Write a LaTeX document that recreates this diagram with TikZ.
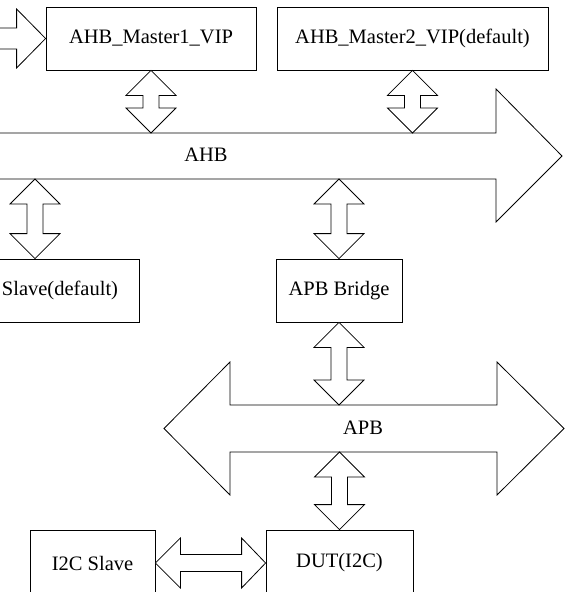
\documentclass[tikz,border=0pt]{standalone}
\usepackage{fontspec}
\setmainfont{Liberation Serif}
\usetikzlibrary{calc}
\tikzset{
  blk/.style={draw=black, line width=0.8pt, fill=white, line join=miter},
  box/.style={draw=black, line width=0.8pt, fill=white, inner sep=0pt, font=\fontsize{20.5}{24}\selectfont},
  lbl/.style={inner sep=0pt, font=\fontsize{20.5}{24}\selectfont}
}
% vertical double block arrow between two points on the same x (first above second)
\newcommand\vdarrow[2]{%
  \draw[blk] let \p1=(#1), \p2=(#2) in
    (\p1) -- (\x1+25pt,\y1-25pt) -- (\x1+8pt,\y1-25pt) -- (\x1+8pt,\y2+25pt)
    -- (\x1+25pt,\y2+25pt) -- (\p2) -- (\x1-25pt,\y2+25pt) -- (\x1-8pt,\y2+25pt)
    -- (\x1-8pt,\y1-25pt) -- (\x1-25pt,\y1-25pt) -- cycle;}
% horizontal double block arrow (first left of second)
\newcommand\hdarrow[2]{%
  \draw[blk] let \p1=(#1), \p2=(#2) in
    (\p1) -- (\x1+25pt,\y1+25pt) -- (\x1+25pt,\y1+8.5pt) -- (\x2-24pt,\y1+8.5pt)
    -- (\x2-24pt,\y1+25pt) -- (\p2) -- (\x2-24pt,\y1-25pt) -- (\x2-24pt,\y1-8.5pt)
    -- (\x1+25pt,\y1-8.5pt) -- (\x1+25pt,\y1-25pt) -- cycle;}
\begin{document}
\begin{tikzpicture}[x=1pt,y=-1pt]
\useasboundingbox (0,0) rectangle (569,592);
\clip (0,0) rectangle (569,592);
\fill[white] (0,0) rectangle (569,592);

% boxes
\node[box, minimum width=210pt, minimum height=63pt] (m1) at (151,38.5) {AHB\_Master1\_VIP};
\node[box, minimum width=271pt, minimum height=63pt] (m2) at (412.5,38.5) {AHB\_Master2\_VIP(default)};
\node[box, minimum width=158pt, minimum height=63pt] (slave) at (60,290.5) {Slave(default)};
\node[box, minimum width=126pt, minimum height=63pt] (bridge) at (339,290.5) {APB Bridge};
\node[box, minimum width=125pt, minimum height=66pt] (i2c) at (92.5,563) {I2C Slave};
\node[box, minimum width=147pt, minimum height=66pt] (dut) at (339.5,563) {DUT(I2C)};

% input arrow into master 1
\coordinate (inl) at (-20,38.5);
\draw[blk] let \p1=(m1.west), \p2=(inl) in
  (\x2,\y1+10.5pt) -- (\x1-29pt,\y1+10.5pt) -- (\x1-29pt,\y1+29.5pt) -- (\p1)
  -- (\x1-29pt,\y1-29.5pt) -- (\x1-29pt,\y1-10.5pt) -- (\x2,\y1-10.5pt);

% AHB bus arrow
\coordinate (ahbt) at (0,133);
\coordinate (ahbb) at (0,179);
\coordinate (ahbtip) at (562,156);
\draw[blk] (-20,133) -- (496,133) -- (496,89) -- (ahbtip) -- (496,222) -- (496,179) -- (-20,179);
\node[lbl] (ahb) at (206,155) {AHB};

% APB bus arrow
\coordinate (apbt) at (0,405);
\coordinate (apbb) at (0,452);
\draw[blk] (230,405) -- (497,405) -- (497,362) -- (564,428.5) -- (497,495) -- (497,452)
  -- (230,452) -- (230,495) -- (164,428.5) -- (230,362) -- cycle;
\node[lbl] (apb) at (363,428) {APB};

% connectors
\coordinate (sl) at ($(slave.north)+(-25,0)$);
\vdarrow{m1.south}{m1.south |- ahbt}
\vdarrow{m2.south}{m2.south |- ahbt}
\vdarrow{sl |- ahbb}{sl}
\vdarrow{bridge.north |- ahbb}{bridge.north}
\vdarrow{bridge.south}{bridge.south |- apbt}
\vdarrow{dut.north |- apbb}{dut.north}
\hdarrow{i2c.east}{dut.west}
\end{tikzpicture}
\end{document}
